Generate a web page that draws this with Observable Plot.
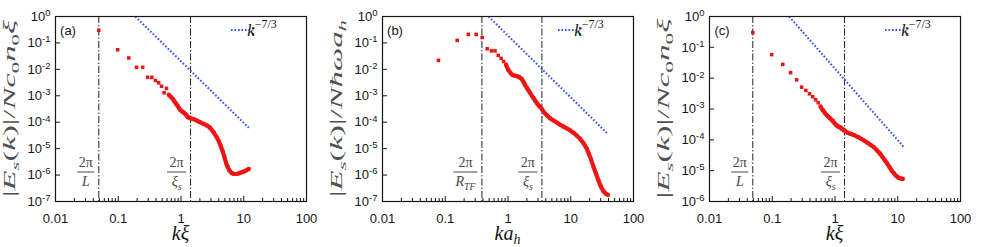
<!DOCTYPE html>
<html><head><meta charset="utf-8">
<script src="https://cdn.jsdelivr.net/npm/d3@7"></script>
<script src="https://cdn.jsdelivr.net/npm/@observablehq/plot@0.6"></script>
<style>
body{margin:0;background:#fff}
#row{display:flex;width:981px;height:247px}
#row svg{display:block;flex:none}
</style>
</head><body><div id="row"></div>
<script>
// ---------- axes ----------
const xTicks = [0.01, 0.1, 1, 10, 100];
const xTickLabels = ["0.01", "0.1", "1", "10", "100"];
const yTicks7 = [1e-7, 1e-6, 1e-5, 1e-4, 1e-3, 1e-2, 1e-1, 1];
const yExp7 = ["-7", "-6", "-5", "-4", "-3", "-2", "-1", "0"];
const yTicks6 = [1e-6, 1e-5, 1e-4, 1e-3, 1e-2, 1e-1, 1];
const yExp6 = ["-6", "-5", "-4", "-3", "-2", "-1", "0"];

// ---------- panel (a) ----------
const kA = [0.049,0.098,0.147,0.196,0.245,0.294,0.343,0.392,0.441,0.490,0.539,0.588,
  0.637,0.686,0.735,0.784,0.833,0.882,0.931,0.98,1.03,1.08,1.13,1.18,1.23,1.27,1.32,1.37,1.42,
  1.6,1.8,2.0,2.3,2.6,2.9,3.3,3.7,4.0,4.3,4.6,4.9,5.2,5.5,5.9,6.4,7.0,7.6,8.3,9.0,10,11,12];
const eA = [0.30,0.055,0.027,0.012,0.012,0.0050,0.0050,0.0038,0.0031,0.0023,0.0013,0.0019,
  0.0011,0.00092,0.00078,0.00062,0.00050,0.00042,0.00034,0.00029,0.00026,0.00024,0.00022,0.00020,0.00018,0.00016,0.00015,0.00015,0.00014,
  1.3e-4,1.15e-4,1.0e-4,8.7e-5,7.5e-5,6.2e-5,4.2e-5,2.7e-5,1.9e-5,1.25e-5,8e-6,5e-6,3.0e-6,2.1e-6,1.5e-6,1.2e-6,1.1e-6,1.1e-6,1.15e-6,1.25e-6,1.35e-6,1.5e-6,1.7e-6];
const denseFromA = 12;
const refKA = [0.187, 12];
const refEA = [1, 6.2e-5];
const vlinesA = [0.049, 1.42];

// ---------- panel (b) ----------
const kB = [0.078,0.155,0.233,0.311,0.388,0.466,0.544,0.621,0.699,0.777,0.854,
  0.932,1.01,1.09,1.17,1.26,1.36,1.47,1.57,1.67,1.78,1.88,2.0,2.12,2.25,2.4,2.55,2.7,2.9,3.08,3.3,3.47,
  3.8,4.2,4.7,5.3,6.0,6.8,7.7,8.7,9.8,11.0,12.5,14,16,18,19.5,21,23,25,27.5,30,33,36,39];
const eB = [0.022,0.125,0.21,0.21,0.16,0.060,0.050,0.050,0.034,0.026,0.020,
  0.015,0.0095,0.0075,0.0062,0.0058,0.0056,0.0053,0.0048,0.0042,0.0032,0.0025,0.0020,0.0016,0.0013,0.0010,0.00082,0.00066,0.00052,0.00043,0.00036,0.00031,
  0.00023,0.00018,0.00014,0.000117,0.000097,0.000080,0.000068,0.000058,0.000049,0.000040,0.000031,0.000024,0.000016,0.000010,6.2e-6,4.0e-6,2.1e-6,1.2e-6,6.5e-7,3.8e-7,2.5e-7,2.0e-7,1.8e-7];
const denseFromB = 11;
const refKB = [0.49, 39];
const refEB = [1, 3.6e-5];
const vlinesB = [0.384, 3.47];

// ---------- panel (c) ----------
const kC = [0.049,0.098,0.147,0.196,0.245,0.294,0.343,0.392,0.441,0.49,0.539,
  0.588,0.637,0.686,0.735,0.784,0.833,0.882,0.931,0.98,1.03,1.08,1.13,1.18,1.23,1.27,1.32,1.37,1.42,
  1.6,1.8,2.0,2.3,2.6,2.9,3.3,3.7,4.2,4.7,5.2,5.7,6.2,6.8,7.4,8.0,8.7,9.4,10.2,11.0,12.0];
const eC = [0.30,0.058,0.028,0.015,0.0088,0.0051,0.0040,0.0031,0.0025,0.0020,0.0016,
  0.0012,0.00092,0.00075,0.00064,0.00056,0.00050,0.00045,0.00040,0.00035,0.00031,0.00029,0.00027,0.00026,0.00025,0.00023,0.00022,0.00021,0.00020,
  1.7e-4,1.55e-4,1.42e-4,1.25e-4,1.08e-4,9.5e-5,8.0e-5,6.8e-5,5.7e-5,4.5e-5,3.6e-5,2.8e-5,2.2e-5,1.7e-5,1.3e-5,1.0e-5,8.2e-6,6.8e-6,6.0e-6,5.6e-6,5.4e-6];
const denseFromC = 11;
const refKC = [0.186, 12.5];
const refEC = [1, 5.8e-5];
const vlinesC = [0.049, 1.42];

// ---------- styling ----------
const RED = "#f01414", BLUE = "#2a4dff", INK = "#151515", GREY = "#444";
const W = 327, H = 247, ML = 55, MR = 21, MT = 16, MB = 46;
const SERIF = "Liberation Serif, DejaVu Serif, serif";
const SANS = "Liberation Sans, Arial, sans-serif";
const DOTS = "1.6,1.9";

function scaleFn(plot, name) {
  const s = plot.scale(name);
  if (s && typeof s.apply === "function") return v => s.apply(v);
  const [d0, d1] = s.domain, [r0, r1] = s.range;
  return v => r0 + (Math.log(v) - Math.log(d0)) / (Math.log(d1) - Math.log(d0)) * (r1 - r0);
}

function addParts(t, parts, fs, subShift = 0.28) {
  let shift = 0;
  for (const [s, it, pos] of parts) {
    const target = pos === "sub" ? fs * subShift : pos === "sup" ? -fs * 0.5 : 0;
    const ts = t.append("tspan").text(s).attr("font-style", it ? "italic" : "normal");
    if (target !== shift) { ts.attr("dy", target - shift); shift = target; }
    if (pos) ts.attr("font-size", fs * 0.7);
  }
}

function panel(cfg) {
  const data = cfg.k.map((k, i) => ({k, e: cfg.e[i]}));
  const dense = data.slice(cfg.denseFrom);
  const ref = cfg.refK.map((k, i) => ({k, e: cfg.refE[i]}));
  const xMinor = [];
  for (let p = -2; p < 2; p++) for (let m = 2; m <= 9; m++) xMinor.push(m * Math.pow(10, p));
  const fw = W - ML - MR, fh = H - MT - MB;
  const plot = Plot.plot({
    width: W, height: H, marginLeft: ML, marginRight: MR, marginTop: MT, marginBottom: MB,
    style: {fontFamily: SANS, fontSize: "13px", color: INK, background: "white", overflow: "visible"},
    x: {type: "log", domain: [0.01, 100], ticks: xTicks, tickFormat: d => xTickLabels[xTicks.indexOf(d)],
        tickSize: 0, tickPadding: 12, label: null},
    y: {type: "log", domain: cfg.yDomain, ticks: cfg.yTicks, tickFormat: d => cfg.yExp[cfg.yTicks.indexOf(d)],
        tickSize: 0, tickPadding: 5, label: null},
    marks: [
      Plot.tickX(xMinor, {x: d => d, insetTop: fh - 3, stroke: INK}),
      Plot.tickX(xTicks, {x: d => d, insetTop: fh - 5, stroke: INK}),
      Plot.tickY(cfg.yTicks, {y: d => d, insetRight: fw - 5, stroke: INK}),
      Plot.ruleX(cfg.vlines, {x: d => d, stroke: "#222", strokeWidth: 1, strokeDasharray: "7,2,1.5,2"}),
      Plot.line(ref, {x: "k", y: "e", stroke: BLUE, strokeWidth: 2, strokeDasharray: DOTS, strokeLinecap: "butt"}),
      Plot.line(dense, {x: "k", y: "e", stroke: RED, strokeWidth: 4.2}),
      Plot.dot(data, {x: "k", y: "e", symbol: "square", r: 2, fill: RED, stroke: "none"}),
      Plot.frame({stroke: INK, strokeWidth: 1.2})
    ]
  });
  const svg = d3.select(plot);
  // superscript tick labels 10^n
  svg.selectAll('g[aria-label="y-axis tick label"] text').each(function () {
    const t = d3.select(this);
    const ex = t.text();
    t.text(null);
    t.append("tspan").text("10");
    t.append("tspan").attr("dy", "-0.5em").attr("font-size", "9.5px").text(ex);
  });
  const sx = scaleFn(plot, "x");
  const g = svg.append("g");
  // panel label
  g.append("text").attr("x", ML + 13).attr("y", 35).attr("font-family", SANS).attr("font-size", 13)
    .attr("fill", INK).text(cfg.tag);
  // legend
  const xr = W - MR;
  g.append("line").attr("x1", xr - 75).attr("x2", xr - 57).attr("y1", 30).attr("y2", 30)
    .attr("stroke", BLUE).attr("stroke-width", 2).attr("stroke-dasharray", DOTS);
  g.append("text").attr("x", xr - 53).attr("y", 35).attr("font-family", SERIF)
    .attr("font-size", 16).attr("fill", INK).text(":");
  const lt = g.append("text").attr("x", xr - 44).attr("y", 36).attr("font-family", SERIF)
    .attr("font-size", 17).attr("fill", INK);
  addParts(lt, [["k", true], ["\u22127/3", false, "sup"]], 17);
  // fraction annotations
  cfg.vlines.forEach((v, i) => {
    const fr = cfg.fracs[i];
    const cx = sx(v) - 4 - fr.w / 2;
    g.append("text").attr("x", cx).attr("y", 167).attr("text-anchor", "middle").attr("font-family", SERIF)
      .attr("font-size", 14).attr("fill", GREY).text("2\u03c0");
    g.append("line").attr("x1", cx - fr.w / 2).attr("x2", cx + fr.w / 2).attr("y1", 172).attr("y2", 172)
      .attr("stroke", GREY).attr("stroke-width", 1);
    const dt = g.append("text").attr("x", cx).attr("y", 186).attr("text-anchor", "middle")
      .attr("font-family", SERIF).attr("font-size", 14).attr("fill", GREY);
    addParts(dt, fr.parts, 14);
  });
  // y label (stretched along its length, as in the reference)
  const yl = g.append("text").attr("transform", `translate(15,${(MT + H - MB) / 2}) rotate(-90)`)
    .attr("text-anchor", "middle").attr("font-family", SERIF).attr("font-size", 16).attr("fill", "#505050")
    .attr("textLength", cfg.ylen).attr("lengthAdjust", "spacingAndGlyphs");
  addParts(yl, cfg.ylabel, 16);
  // x label
  const xl = g.append("text").attr("x", (ML + W - MR) / 2).attr("y", 240).attr("text-anchor", "middle")
    .attr("font-family", SERIF).attr("font-size", 20).attr("fill", INK);
  addParts(xl, cfg.xlabel, 20, 0.2);
  return plot;
}

const fracL = {w: 17, parts: [["L", true]]};
const fracXi = {w: 19, parts: [["\u03be", true], ["s", true, "sub"]]};
const fracR = {w: 24, parts: [["R", true], ["TF", true, "sub"]]};
const ylabA = [["|", false], ["E", true], ["s", true, "sub"], ["(", false], ["k", true], [")|/", false],
  ["N", true], ["c", true], ["0", false, "sub"], ["n", true], ["0", false, "sub"], ["\u03be", true]];
const ylabB = [["|", false], ["E", true], ["s", true, "sub"], ["(", false], ["k", true], [")|/", false],
  ["N\u0127\u03c9a", true], ["h", true, "sub"]];

const row = document.getElementById("row");
row.appendChild(panel({tag: "(a)", k: kA, e: eA, denseFrom: denseFromA, refK: refKA, refE: refEA,
  vlines: vlinesA, fracs: [fracL, fracXi], yDomain: [1e-7, 1], yTicks: yTicks7, yExp: yExp7,
  ylabel: ylabA, ylen: 177, xlabel: [["k\u03be", true]]}));
row.appendChild(panel({tag: "(b)", k: kB, e: eB, denseFrom: denseFromB, refK: refKB, refE: refEB,
  vlines: vlinesB, fracs: [fracR, fracXi], yDomain: [1e-7, 1], yTicks: yTicks7, yExp: yExp7,
  ylabel: ylabB, ylen: 177, xlabel: [["ka", true], ["h", true, "sub"]]}));
row.appendChild(panel({tag: "(c)", k: kC, e: eC, denseFrom: denseFromC, refK: refKC, refE: refEC,
  vlines: vlinesC, fracs: [fracL, fracXi], yDomain: [1e-6, 1], yTicks: yTicks6, yExp: yExp6,
  ylabel: ylabA, ylen: 180, xlabel: [["k\u03be", true]]}));
</script>
</body></html>
